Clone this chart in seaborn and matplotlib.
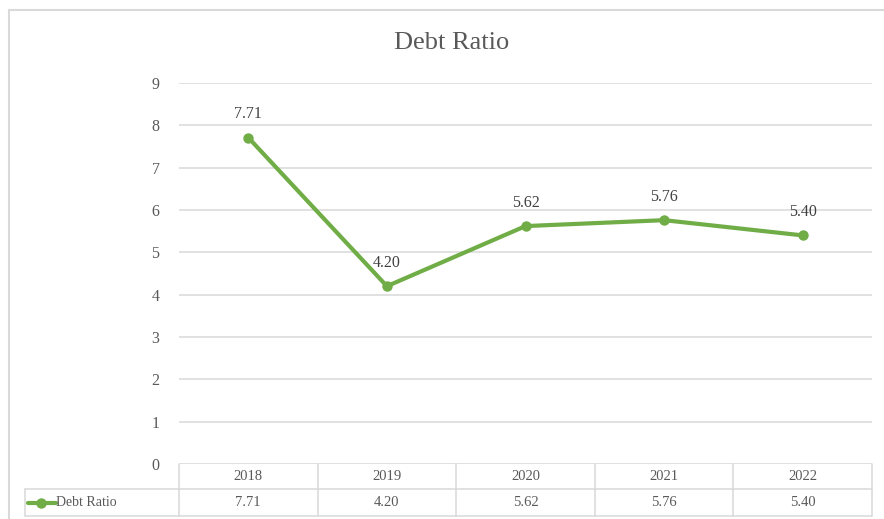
import matplotlib
matplotlib.use("Agg")
import matplotlib.pyplot as plt
import matplotlib.transforms as mtransforms
from matplotlib.patches import Rectangle
from matplotlib.lines import Line2D
import seaborn as sns
import pandas as pd

# ---- data ----
years = ["2018", "2019", "2020", "2021", "2022"]
debt_ratio = [7.71, 4.20, 5.62, 5.76, 5.40]
series_name = "Debt Ratio"
title = "Debt Ratio"
y_ticks = [0, 1, 2, 3, 4, 5, 6, 7, 8, 9]

sns.set_theme(style="white")
plt.rcParams["font.family"] = ["Liberation Serif", "DejaVu Serif"]

W, H = 884, 519
fig = plt.figure(figsize=(W / 100, H / 100), dpi=100)

GREEN = "#70AD47"
GRID = "#D9D9D9"
TXT = "#595959"

left_px, right_px, top_px, bot_px = 179, 872, 83, 464
ax = fig.add_axes([left_px / W, 1 - bot_px / H, (right_px - left_px) / W, (bot_px - top_px) / H])

df = pd.DataFrame({"idx": range(len(years)), "val": debt_ratio})
sns.lineplot(data=df, x="idx", y="val", ax=ax, color=GREEN, linewidth=3.0,
             marker="o", markersize=7.5, markeredgewidth=0, markerfacecolor=GREEN, zorder=3)

ax.set_xlim(-0.5, len(years) - 0.5)
ax.set_ylim(0, 9)
ax.set_yticks(y_ticks)
ax.set_yticklabels([str(t) for t in y_ticks], fontsize=11.5, color=TXT)
ax.tick_params(axis="y", length=0, pad=14)
ax.set_xticks([])
ax.set_xlabel("")
ax.set_ylabel("")
for s in ax.spines.values():
    s.set_visible(False)
for t in y_ticks:
    ax.axhline(t, color=GRID, linewidth=1.1, zorder=1)

for i, v in enumerate(debt_ratio):
    ax.annotate(f"{v:.2f}", (i, v), xytext=(0, 11), textcoords="offset points",
                ha="center", va="bottom", fontsize=11.5, color="#404040")

fig.text(452 / W, 1 - 43 / H, title, ha="center", va="center", fontsize=19, color=TXT)

# ---- data table ----
trans = mtransforms.blended_transform_factory(ax.transData, ax.transAxes)
ah = bot_px - top_px
r1 = -25 / ah
r2 = -52 / ah
n = len(years)
lw = 1.1
ax.add_line(Line2D([-0.5, n - 0.5], [r1, r1], transform=trans, color=GRID, lw=lw, clip_on=False))
ax.add_line(Line2D([-0.5, n - 0.5], [r2, r2], transform=trans, color=GRID, lw=lw, clip_on=False))
for k in range(n + 1):
    ax.add_line(Line2D([k - 0.5, k - 0.5], [0, r2], transform=trans, color=GRID, lw=lw, clip_on=False))
lx = 25 / W
fig.add_artist(Line2D([lx, left_px / W], [1 - 489 / H, 1 - 489 / H], color=GRID, lw=lw))
fig.add_artist(Line2D([lx, left_px / W], [1 - 516 / H, 1 - 516 / H], color=GRID, lw=lw))
fig.add_artist(Line2D([lx, lx], [1 - 489 / H, 1 - 516 / H], color=GRID, lw=lw))

for i, (yr, v) in enumerate(zip(years, debt_ratio)):
    ax.text(i, r1 / 2, yr, transform=trans, ha="center", va="center", fontsize=10.5, color=TXT)
    ax.text(i, (r1 + r2) / 2, f"{v:.2f}", transform=trans, ha="center", va="center", fontsize=10.5, color=TXT)

ym = 1 - 502.5 / H
fig.add_artist(Line2D([28 / W, 56 / W], [ym, ym], color=GREEN, lw=3.0))
fig.add_artist(Line2D([41 / W], [ym], color=GREEN, marker="o", markersize=7.5, markeredgewidth=0))
fig.text(56 / W, ym, series_name, ha="left", va="center", fontsize=10, color=TXT)

# outer chart border
fig.add_artist(Rectangle((8.5 / W, -0.5), 2, 1.5 - 10 / H, transform=fig.transFigure,
                         fill=False, edgecolor=GRID, linewidth=1.5))

fig.savefig("out.png", dpi=100)
